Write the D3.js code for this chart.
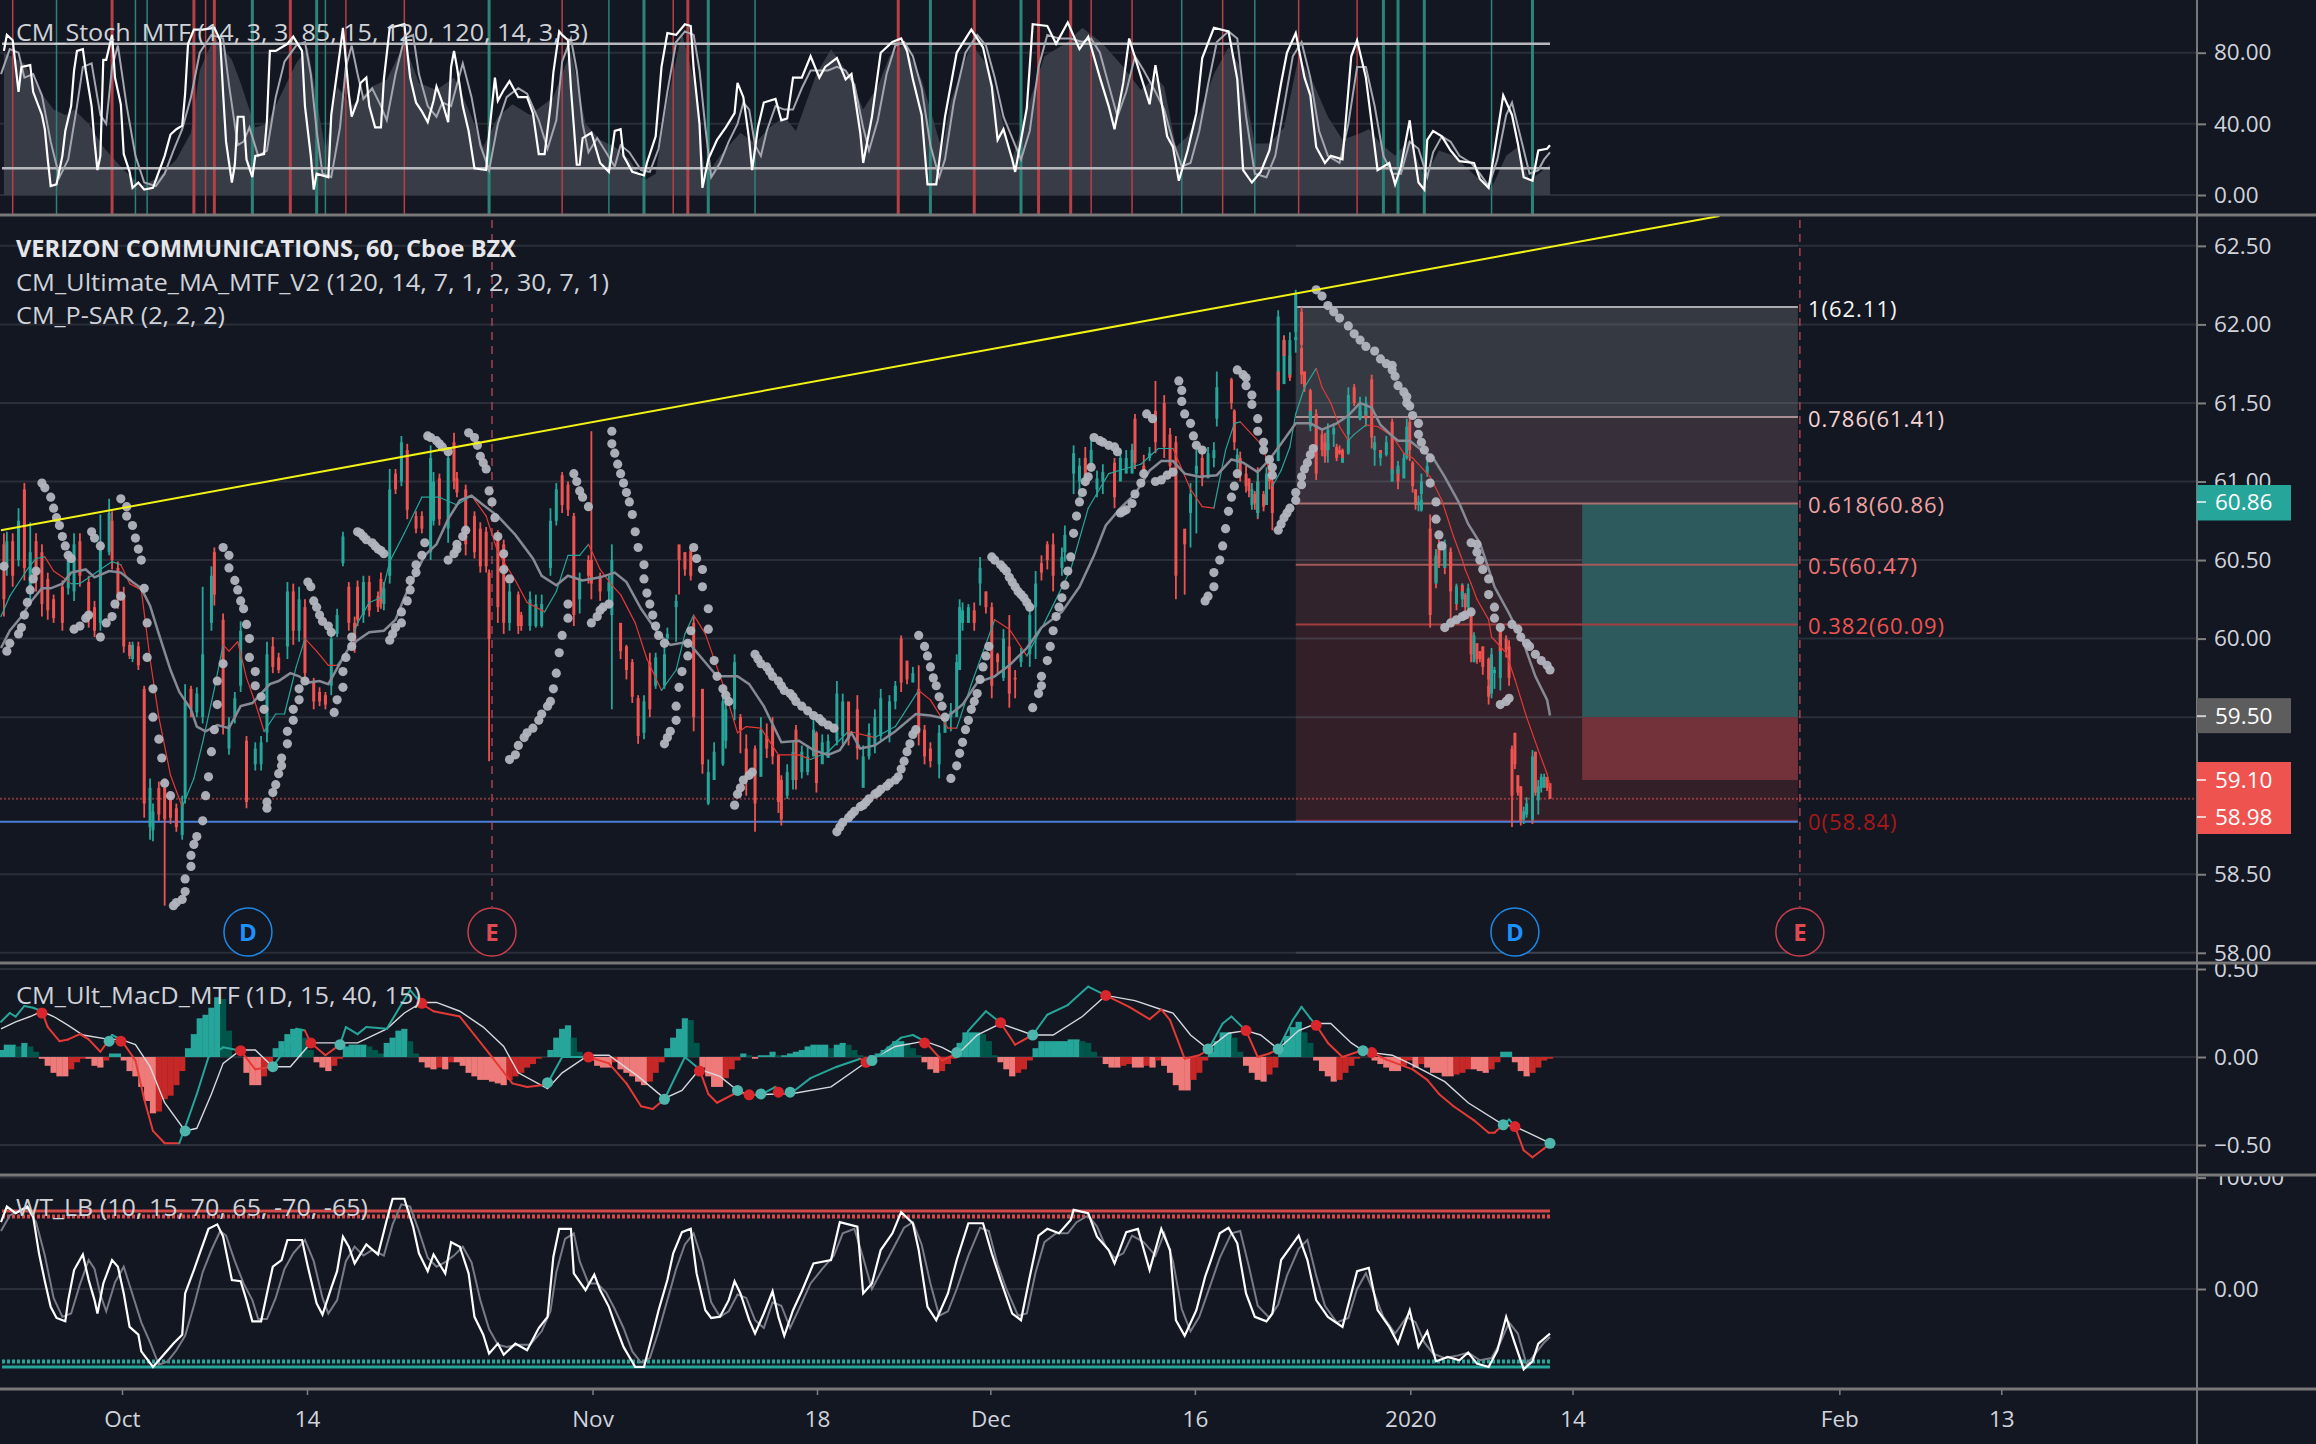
<!DOCTYPE html>
<html>
<head>
<meta charset="utf-8">
<script src="https://cdn.jsdelivr.net/npm/d3@7"></script>
<style>
  html, body { margin: 0; padding: 0; background: #131722; }
  text { font-family: "Open Sans", sans-serif; }
</style>
</head>
<body>
<div id="chart"></div>
<script>
// candles: bar, open, high, low, close
var candles = [
[1,60.6,60.67,60.14,60.25],[2,60.45,60.68,60.4,60.62],[4,60.62,60.67,60.33,60.4],[6,60.5,60.83,60.46,60.75],[8,60.95,60.99,60.37,60.45],
[10,60.3,60.74,60.23,60.55],[12,60.62,60.67,60.3,60.38],[14,60.55,60.6,60.14,60.22],[16,60.38,60.42,60.12,60.18],[18,60.25,60.28,60.1,60.13],
[21,60.33,60.37,60.05,60.1],[23,60.32,60.56,60.28,60.5],[25,60.3,60.67,60.24,60.6],[27,60.62,60.67,60.33,60.4],[30,60.36,60.4,60.07,60.12],
[32,60.2,60.24,60.01,60.05],[34,60.1,60.79,60.05,60.6],[37,60.55,60.89,60.53,60.8],[38,60.75,60.81,60.44,60.5],[40,60.45,60.49,60.19,60.25],
[42,60.28,60.33,59.91,59.95],[44,59.96,59.98,59.87,59.89],[45,59.87,59.98,59.85,59.96],[47,59.95,59.98,59.8,59.83],[49,59.68,59.7,58.86,58.95],
[51,58.8,59.11,58.72,59.05],[52,58.78,58.95,58.71,58.9],[54,59.05,59.09,58.84,58.88],[56,59.05,59.11,58.3,58.85],[58,59,59.02,58.82,58.86],
[60,58.92,58.95,58.77,58.8],[62,58.75,59,58.72,58.95],[63,58.98,59.71,58.95,59.6],[65,59.68,59.7,59.5,59.55],[67,59.53,59.69,59.5,59.65],
[69,59.5,60.33,59.46,59.9],[72,60.1,60.46,60.05,60.4],[73,60.55,60.58,60.21,60.28],[76,60.12,60.16,59.39,59.45],[78,59.3,59.5,59.26,59.45],
[80,59.5,59.66,59.46,59.62],[82,59.7,60.11,59.66,60.05],[84,59.35,59.38,58.92,58.96],[87,59.2,59.34,59.16,59.3],[89,59.2,59.38,59.16,59.34],
[91,59.4,59.98,59.34,59.9],[93,59.95,60.01,59.78,59.82],[95,59.88,59.91,59.78,59.8],[98,59.95,60.36,59.87,60.3],[100,60.3,60.35,59.96,60.05],
[102,60.05,60.33,59.98,60.25],[104,60.2,60.25,59.73,59.78],[107,59.72,59.75,59.55,59.6],[109,59.66,59.69,59.57,59.6],[111,59.64,59.66,59.55,59.58],
[113,59.7,60.05,59.64,60],[115,60.03,60.19,60.01,60.15],[117,60.48,60.68,60.46,60.65],[119,60.33,60.36,60.05,60.1],[121,60.1,60.14,59.91,59.95],
[122,60.33,60.37,60.08,60.12],[124,60.15,60.4,60.1,60.36],[126,60.36,60.4,60.14,60.18],[129,60.27,60.3,60.17,60.2],[130,60.38,60.42,60.19,60.23],
[131,60.22,60.36,60.18,60.32],[133,60.4,61.08,60.35,60.95],[135,61.05,61.08,60.92,60.95],[137,61,61.29,60.97,61.25],[139,61.2,61.24,60.76,60.82],
[142,60.78,60.81,60.67,60.7],[144,60.78,60.81,60.67,60.7],[147,60.55,61.23,60.5,61.15],[148,60.75,61.06,60.72,61],[150,61.02,61.05,60.72,60.76],
[153,60.7,61.22,60.61,61.15],[155,61.25,61.31,60.95,61],[156,61.02,61.06,60.9,60.93],[159,60.95,60.98,60.53,60.6],[162,60.78,60.81,60.51,60.55],
[164,60.7,60.74,60.42,60.46],[166,60.68,60.71,60.42,60.46],[167,60.42,60.44,59.22,60],[170,60.66,60.69,60.1,60.2],[172,60.6,60.63,60.03,60.1],
[174,60.1,60.35,60.05,60.3],[177,60.28,60.3,60.03,60.08],[178,60.15,60.17,60.05,60.08],[181,60.08,60.3,60.05,60.25],[183,60.08,60.28,60.07,60.22],
[185,60.08,60.28,60.07,60.22],[188,60.45,60.83,60.4,60.75],[190,60.75,60.99,60.72,60.95],[192,61.04,61.06,60.8,60.85],[194,60.98,61,60.78,60.82],
[196,60.78,60.8,60.08,60.15],[198,60.25,60.42,60.16,60.38],[201,60.5,60.53,60.35,60.4],[202,60.5,61.32,60.25,60.35],[205,60.4,60.42,60.24,60.3],
[208,60.3,60.4,60.2,60.36],[209,60.15,60.6,59.55,60.5],[212,60.1,60.1,59.87,59.92],[214,59.95,59.96,59.74,59.8],[216,59.85,59.87,59.59,59.63],
[218,59.62,59.64,59.33,59.38],[220,59.4,59.64,59.36,59.6],[222,59.85,59.91,59.5,59.55],[224,59.7,59.91,59.68,59.88],[227,59.7,59.96,59.68,59.9],
[228,60,60.07,59.98,60.03],[231,60.2,60.28,59.98,60.24],[232,60.6,60.58,60.28,60.5],[234,60.55,60.55,60.4,60.44],[236,60.56,60.58,60.37,60.4],
[237,60.1,60.14,59.41,59.5],[240,59.68,59.68,59.14,59.2],[242,58.95,59.23,58.94,59.15],[244,59.1,59.34,59.13,59.28],[247,59.2,59.68,59.19,59.6],
[248,59.35,59.64,59.3,59.55],[251,59.55,59.9,59.48,59.85],[253,59.5,59.52,59.27,59.42],[255,59.3,59.39,59.0,59.1],[258,59.3,59.32,58.77,58.95],
[260,59.12,59.5,59.25,59.42],[262,59.38,59.46,59.24,59.3],[264,59.45,59.5,59.2,59.25],[266,59.26,59.26,58.89,58.96],[267,59.1,59.13,58.81,58.85],
[269,59,59.2,58.98,59.15],[271,59.1,59.34,59.04,59.28],[272,59.42,59.45,59.04,59.1],[274,59.15,59.32,59.11,59.28],[276,59.15,59.32,59.13,59.25],
[278,59.25,59.5,59.25,59.42],[279,59.4,59.41,59.02,59.08],[281,59.2,59.39,59.23,59.34],[283,59.24,59.39,59.25,59.35],[286,59.35,59.73,59.32,59.65],
[288,59.38,59.65,59.32,59.6],[290,59.6,59.57,59.32,59.36],[293,59.55,59.64,59.23,59.3],[295,59.05,59.32,59.07,59.25],[297,59.25,59.46,59.23,59.4],
[299,59.32,59.55,59.27,59.5],[301,59.38,59.68,59.34,59.62],[304,59.38,59.64,59.34,59.6],[306,59.6,59.73,59.55,59.7],[308,60,60.02,59.66,59.72],
[310,59.86,59.84,59.71,59.74],[312,59.72,59.82,59.73,59.78],[314,59.68,59.83,59.32,59.4],[316,59.42,59.45,59.2,59.25],[318,59.3,59.34,59.18,59.22],
[321,59.2,59.45,59.11,59.4],[323,59.4,59.5,59.41,59.48],[325,59.5,59.59,59.41,59.54],[327,59.5,59.9,59.55,59.85],[328,59.8,60.25,59.96,60.2],
[329,60.1,60.23,60.05,60.18],[331,60.1,60.22,60.1,60.2],[333,60.18,60.23,60.05,60.1],[335,60.35,60.52,60.21,60.45],[337,60.3,60.3,60.16,60.2],
[339,60.2,60.23,59.62,59.7],[341,59.9,59.91,59.78,59.85],[343,59.75,60.06,59.73,60],[345,59.95,60.15,59.56,59.65],[347,59.75,59.8,59.62,59.74],
[349,59.85,59.94,59.82,59.9],[352,59.9,60.21,59.82,60.15],[354,60.2,60.43,59.87,60.35],[356,60.48,60.53,60.37,60.42],[358,60.6,60.62,60.44,60.5],
[360,60.6,60.67,60.3,60.4],[363,60.45,60.58,60.4,60.52],[364,60.55,60.72,60.49,60.66],[367,61.05,61.23,60.92,61.18],[369,61,61.15,60.9,61.1],
[371,61.15,61.22,60.97,61],[373,61.1,61.27,61.08,61.2],[375,60.95,61.07,60.9,61.02],[377,61,61.11,60.92,61.06],[381,61.12,61.15,60.83,60.9],
[383,61,61.21,61.01,61.15],[385,61.05,61.2,61.06,61.15],[387,61.05,61.24,61.06,61.2],[388,61.4,61.43,61.08,61.12],[391,61.1,61.17,60.99,61.05],
[393,61.15,61.22,61.13,61.18],[395,61.45,61.64,61.18,61.25],[398,61.5,61.55,61.15,61.22],[400,61.3,61.34,61.03,61.1],[402,61.25,61.29,60.25,60.4],
[405,60.7,60.65,60.28,60.6],[407,60.8,60.99,60.58,60.92],[409,61.05,61.2,60.67,61.1],[411,61.15,61.22,60.97,61.02],[413,61.02,61.22,61.08,61.18],
[415,61.15,61.25,61.09,61.2],[416,61.4,61.7,61.35,61.6],[421,61.65,61.66,61.46,61.5],[422,61.45,61.46,61.2,61.25],[423,61.12,61.21,61.08,61.17],
[424,61.15,61.19,61,61.05],[426,61.05,61.1,60.93,60.97],[427,61.02,61,60.9,60.94],[428,60.85,60.99,60.82,60.95],[429,60.92,60.94,60.82,60.86],
[430,61.0,61.09,60.76,60.8],[430,60.8,61.06,60.77,61],[432,60.92,60.94,60.81,60.84],[433,60.85,61.09,60.88,61.05],[434,61.1,61.14,60.95,61],
[435,61,61.03,60.69,60.8],[437,61.13,62.09,61.13,62.05],[437,61.7,61.7,61.57,61.58],[439,61.62,61.93,61.64,61.9],[439,61.9,61.93,61.78,61.8],
[441,61.8,61.81,61.64,61.66],[441,61.68,61.95,61.67,61.9],[443,61.95,62.22,61.9,62.2],[443,61.9,61.95,61.82,61.92],[445,62.08,62.11,61.85,61.87],
[445,61.85,61.85,61.62,61.68],[446,61.7,61.7,61.57,61.6],[448,61.58,61.59,61.35,61.4],[448,61.35,61.48,61.32,61.45],[450,61.43,61.46,61.31,61.34],
[450,61.34,61.34,61.01,61.05],[452,61.3,61.33,61.16,61.2],[453,61.25,61.31,61.12,61.16],[454,61.2,61.26,61.12,61.24],[454,61.2,61.37,61.2,61.33],
[456,61.3,61.37,61.22,61.34],[457,61.22,61.24,61.13,61.15],[458,61.2,61.23,61.17,61.18],[459,61.2,61.21,61.12,61.14],[459,61.12,61.17,61.12,61.15],
[461,61.18,61.29,61.17,61.27],[461,61.3,61.6,61.29,61.55],[463,61.6,61.62,61.48,61.5],[465,61.4,61.54,61.39,61.5],[465,61.4,61.5,61.39,61.45],
[467,61.45,61.47,61.38,61.4],[467,61.42,61.54,61.35,61.5],[469,61.65,61.68,61.21,61.28],[470,61.2,61.29,61.1,61.25],[472,61.2,61.2,61.15,61.16],
[472,61.15,61.2,61.1,61.18],[474,61.17,61.29,61.16,61.25],[476,61.38,61.4,61.01,61.05],[476,61,61.1,61,61.08],[478,61.08,61.09,60.95,61],
[478,61.05,61.13,61.0,61.1],[480,61.02,61.18,61.02,61.15],[481,61.15,61.4,61.14,61.35],[482,61.38,61.42,61.13,61.2],[483,61.12,61.13,60.93,60.97],
[484,60.95,60.95,60.82,60.85],[485,60.85,60.91,60.81,60.87],[486,60.82,60.89,60.81,60.88],[486,60.92,61.05,60.81,61],[488,61.05,61.13,61.03,61.1],
[489,60.7,60.79,60.07,60.15],[491,60.52,60.55,60.32,60.36],[491,60.35,60.57,60.35,60.53],[492,60.6,60.63,60.45,60.48],[494,60.58,60.61,60.41,60.46],
[494,60.45,60.63,60.46,60.6],[496,60.55,60.58,60.41,60.45],[496,60.55,60.57,60.12,60.3],[498,60.33,60.34,60.18,60.22],[498,60.22,60.35,60.28,60.33],
[500,60.34,60.35,60.25,60.27],[500,60.25,60.35,60.2,60.3],[501,60.28,60.29,60.17,60.2],[502,60.2,60.35,60.18,60.32],[503,60.17,60.18,59.85,59.9],
[504,59.85,60.04,59.85,60.02],[505,59.97,59.97,59.84,59.87],[506,59.92,59.92,59.85,59.87],[507,59.95,59.95,59.77,59.82],[509,59.87,59.88,59.7,59.74],
[509,59.7,59.75,59.58,59.63],[510,59.65,59.94,59.62,59.9],[511,59.78,59.82,59.68,59.8],[513,59.75,60.07,59.67,60.03],[513,60.05,60.06,59.9,59.92],
[515,60,60.02,59.88,59.93],[516,59.95,59.99,59.7,59.75],[517,59.3,59.32,58.8,59],[518,59.4,59.4,59.17,59.2],[519,59.13,59.13,59,59.02],
[520,59.06,59.06,58.81,58.84],[521,58.85,58.93,58.82,58.9],[522,58.88,58.99,58.86,58.95],[524,58.99,59,58.82,58.85],[524,58.85,59.29,58.84,59.25],
[525,59.28,59.28,59,59.02],[526,58.97,59.1,58.88,59.06],[527,59.05,59.14,59.02,59.12],[528,59.05,59.14,59.06,59.12],[529,59.12,59.11,59.03,59.05],
[530,59.08,59.07,58.98,58.98]
];

// P-SAR dots: bar, price
var sarDots = [
[1,60.46],[2,59.92],[3,59.97],[6,60.03],[7,60.07],[8,60.15],[9,60.23],[10,60.31],[11,60.38],[12,60.43],
[14,60.99],[15,60.96],[17,60.9],[18,60.83],[19,60.77],[20,60.72],[21,60.65],[22,60.59],[23,60.53],[24,60.51],
[25,60.06],[27,60.08],[29,60.13],[30,60.15],[31,60.68],[32,60.64],[34,60.59],[34,60.01],[36,60.1],[38,60.14],[39,60.22],[41,60.27],
[41,60.89],[43,60.84],[43,60.78],[45,60.72],[46,60.64],[47,60.57],[48,60.5],[49,60.32],[50,60.1],[50,59.88],[52,59.68],[52,59.5],[54,59.36],[55,59.24],[56,59.08],[58,59],
[59,58.3],[60,58.32],[62,58.34],[63,58.39],[63,58.47],[65,58.55],[65,58.62],[66,58.69],[67,58.74],[69,58.84],[70,59],[71,59.12],[72,59.28],[73,59.42],[74,59.58],[74,59.73],[76,59.84],
[76,60.58],[78,60.53],[78,60.45],[80,60.37],[81,60.31],[82,60.24],[83,60.19],[84,60.09],[85,60],[85,59.88],[87,59.79],[87,59.7],[89,59.63],[90,59.55],
[91,58.92],[91,58.96],[93,59.02],[94,59.07],[95,59.14],[96,59.19],[96,59.24],[98,59.33],[98,59.41],[100,59.48],[100,59.55],[102,59.61],[102,59.68],[104,59.73],
[105,60.36],[106,60.33],[107,60.24],[108,60.2],[109,60.15],[110,60.11],[112,60.08],[113,60.04],
[114,59.53],[115,59.61],[117,59.69],[117,59.79],[118,59.88],[120,59.95],[120,60.01],
[122,60.68],[123,60.67],[124,60.65],[125,60.63],[127,60.61],[128,60.59],[129,60.57],[130,60.56],[131,60.54],
[133,59.99],[134,60.03],[135,60.07],[137,60.1],[137,60.17],[139,60.24],[140,60.31],[140,60.37],[142,60.42],[142,60.47],[144,60.53],[145,60.61],
[146,61.29],[147,61.28],[149,61.26],[150,61.24],[151,61.22],[153,61.19],
[153,60.5],[155,60.54],[156,60.57],[156,60.6],[158,60.65],[159,60.69],
[160,61.31],[162,61.28],[163,61.23],[164,61.16],[165,61.12],[166,61.08],[167,60.94],[168,60.87],[169,60.77],[170,60.65],[172,60.54],[172,60.44],[174,60.38],
[174,59.23],[176,59.26],[177,59.32],[179,59.37],[180,59.4],[182,59.43],[184,59.48],[185,59.52],[187,59.57],[188,59.6],[189,59.68],[190,59.78],[191,59.91],[192,60.02],[194,60.13],[194,60.22],
[196,61.05],[197,61],[198,60.94],[199,60.9],[201,60.84],
[202,60.1],[204,60.14],[205,60.18],[206,60.2],[208,60.22],
[209,61.32],[209,61.24],[210,61.18],[211,61.11],[212,61.05],[213,60.99],[214,60.93],[215,60.87],[216,60.79],[217,60.68],[218,60.58],[220,60.47],[220,60.38],[221,60.29],[222,60.22],[223,60.15],[224,60.08],[225,60.02],[227,59.97],
[227,59.33],[228,59.37],[229,59.41],[231,59.48],[231,59.57],[232,59.69],[233,59.79],[235,59.89],[235,59.97],[236,60.05],
[237,60.58],[238,60.51],[240,60.44],[240,60.33],[242,60.19],[242,60.06],[244,59.86],[245,59.76],[247,59.68],[248,59.64],[249,59.6],
[251,58.94],[252,59.01],[253,59.05],[254,59.1],[256,59.13],[257,59.15],
[258,59.9],[259,59.87],[260,59.84],[262,59.82],[263,59.79],[264,59.76],[266,59.73],[267,59.7],[268,59.67],[270,59.65],[271,59.63],[272,59.6],[274,59.57],[276,59.54],[278,59.51],[280,59.49],[281,59.47],[283,59.45],[285,59.43],
[286,58.77],[287,58.8],[288,58.83],[290,58.86],[291,58.88],[292,58.9],[294,58.93],[295,58.94],[296,58.96],[297,58.98],[299,59.01],[300,59.02],[301,59.04],[303,59.06],[304,59.08],[306,59.1],[307,59.12],[308,59.17],[309,59.22],[310,59.28],[311,59.33],[312,59.39],[313,59.42],
[314,60.02],[316,59.95],[317,59.89],[318,59.82],[319,59.75],[320,59.7],[321,59.63],[322,59.57],[323,59.5],
[325,59.11],[327,59.19],[328,59.27],[329,59.34],[330,59.42],[331,59.48],[332,59.55],[333,59.6],[334,59.65],[335,59.74],[336,59.82],[337,59.89],[338,59.95],
[339,60.52],[340,60.5],[342,60.47],[343,60.45],[344,60.43],[345,60.39],[346,60.36],[347,60.33],[348,60.3],[349,60.28],[350,60.26],[351,60.23],[352,60.2],
[353,59.56],[355,59.65],[356,59.7],[356,59.76],[358,59.86],[359,59.95],[360,60.05],[361,60.14],[362,60.2],[363,60.26],[364,60.34],[365,60.43],[366,60.52],[367,60.67],[368,60.78],[369,60.87],[370,60.93],[371,61],[372,61.03],[373,61.09],
[374,61.28],[376,61.26],[377,61.25],[379,61.23],[381,61.22],[382,61.19],
[383,60.8],[384,60.81],[385,60.82],[387,60.86],[388,60.92],[390,60.99],[391,61.05],[392,61.43],[394,61.4],
[395,61],[397,61.01],[399,61.04],[401,61.06],
[403,61.64],[404,61.58],[404,61.51],[405,61.43],[407,61.37],[408,61.29],[409,61.23],[411,61.2],
[412,60.24],[413,60.27],[415,60.33],[415,60.42],[417,60.5],[418,60.59],[419,60.7],[420,60.81],[421,60.9],[422,60.97],[423,61.05],
[423,61.71],[425,61.68],[426,61.66],[426,61.61],[428,61.55],[428,61.49],[430,61.4],[430,61.32],[432,61.25],[432,61.2],[434,61.14],[435,61.09],[435,61.04],
[437,60.69],[438,60.73],[439,60.77],[440,60.8],[441,60.83],[443,60.88],[443,60.93],[445,60.98],[445,61.03],[446,61.08],[447,61.12],[448,61.17],[449,61.21],
[450,62.22],[452,62.18],[454,62.12],[456,62.08],[458,62.04],[461,61.99],[463,61.94],[465,61.9],[467,61.86],[470,61.83],[472,61.78],[474,61.75],[476,61.74],[476,61.71],[477,61.67],[478,61.61],[480,61.57],[481,61.54],[481,61.5],[482,61.48],[483,61.42],[485,61.37],[485,61.3],[486,61.25],[487,61.2],[489,61.15],[489,60.99],[491,60.87],[491,60.76],[492,60.66],[493,60.59],
[494,60.07],[496,60.1],[498,60.12],[500,60.14],[501,60.15],[503,60.17],
[503,60.61],[505,60.6],[505,60.55],[506,60.5],[507,60.44],[509,60.38],[509,60.28],[511,60.2],[511,60.13],[513,60.07],
[513,59.58],[515,59.6],[516,59.62],
[517,60.09],[519,60.06],[520,60.01],[522,59.97],[523,59.95],[525,59.9],[527,59.86],[529,59.83],[530,59.8]
];

// long moving average: bar, price
var maSlow = [
[0,59.94],[3,60.05],[7,60.14],[10,60.23],[14,60.32],[17,60.32],[21,60.35],[24,60.42],[29,60.44],[32,60.39],[37,60.43],[41,60.42],[45,60.36],[48,60.32],[51,60.21],[54,60.03],[58,59.8],[61,59.66],[65,59.55],[67,59.44],[70,59.41],[74,59.45],[78,59.43],[82,59.57],[86,59.59],[89,59.65],[92,59.71],[95,59.73],[99,59.78],[102,59.76],[105,59.72],[109,59.73],[112,59.71],[115,59.81],[119,59.94],[122,59.99],[126,60.04],[131,60.05],[135,60.12],[138,60.26],[142,60.42],[145,60.53],[149,60.6],[153,60.76],[157,60.88],[161,60.91],[165,60.85],[170,60.78],[176,60.66],[182,60.51],[185,60.4],[190,60.34],[194,60.4],[199,60.37],[205,60.39],[210,60.42],[214,60.36],[219,60.19],[225,60.03],[229,59.96],[235,59.98],[240,59.87],[245,59.76],[252,59.76],[256,59.71],[261,59.57],[267,59.34],[273,59.35],[278,59.29],[283,59.26],[287,59.29],[291,59.4],[294,59.3],[299,59.32],[306,59.41],[313,59.52],[318,59.51],[323,59.49],[329,59.58],[334,59.72],[340,59.76],[345,59.83],[351,59.94],[356,60.07],[363,60.17],[369,60.33],[374,60.53],[378,60.72],[383,60.83],[388,60.92],[393,61.07],[397,61.13],[401,61.13],[405,61.05],[410,61.03],[416,61.04],[421,61.14],[425,61.12],[430,61.06],[434,61.14],[438,61.24],[443,61.37],[448,61.37],[452,61.33],[457,61.37],[461,61.42],[465,61.5],[469,61.47],[472,61.36],[476,61.29],[478,61.26],[482,61.26],[486,61.2],[490,61.15],[494,61.03],[499,60.86],[502,60.73],[506,60.61],[508,60.5],[511,60.33],[516,60.16],[521,59.97],[525,59.76],[529,59.61],[530,59.51]
];

// short moving average: bar, price, direction (1 rising, -1 falling)
var maFast = [
[0,60.14,1],[3,60.27,1],[9,60.44,1],[12,60.51,1],[15,60.52,1],[18,60.43,-1],[22,60.38,-1],[24,60.35,-1],[27,60.35,1],[31,60.4,1],[34,60.44,1],[38,60.49,1],[41,60.47,1],[44,60.35,-1],[48,60.31,-1],[51,59.87,-1],[54,59.5,-1],[58,59.13,-1],[62,58.93,-1],[66,59.11,1],[69,59.34,1],[73,59.68,1],[76,59.96,1],[78,59.92,-1],[81,59.98,-1],[84,59.75,-1],[87,59.59,-1],[90,59.41,-1],[94,59.52,1],[97,59.52,1],[101,59.82,1],[104,60,1],[108,59.92,-1],[112,59.83,-1],[115,59.83,-1],[119,59.94,1],[122,60.1,1],[126,60.23,1],[130,60.26,1],[133,60.49,1],[138,60.67,1],[144,60.9,1],[150,60.9,1],[156,60.85,1],[161,60.91,1],[166,60.78,-1],[170,60.55,-1],[176,60.37,-1],[180,60.23,-1],[186,60.17,-1],[190,60.3,1],[194,60.53,1],[198,60.53,1],[201,60.6,1],[205,60.44,-1],[209,60.34,-1],[212,60.28,-1],[217,60.1,-1],[221,59.87,-1],[226,59.67,-1],[231,59.8,1],[234,60.03,1],[237,60.15,1],[241,60.03,-1],[247,59.71,-1],[252,59.4,-1],[255,59.44,-1],[260,59.43,-1],[266,59.26,-1],[273,59.26,-1],[277,59.23,-1],[283,59.28,1],[290,59.41,1],[299,59.37,-1],[306,59.44,1],[314,59.67,1],[318,59.61,-1],[324,59.43,-1],[327,59.43,-1],[332,59.71,1],[340,60.12,1],[345,60.06,-1],[351,59.89,-1],[357,60.1,1],[366,60.44,1],[372,60.83,1],[379,61.05,1],[390,61.11,1],[396,61.21,1],[401,61.21,1],[407,60.95,-1],[411,60.84,-1],[415,60.83,-1],[419,61.2,1],[422,61.37,1],[424,61.38,1],[432,61.22,-1],[435,60.97,-1],[438,61.07,1],[441,61.22,1],[443,61.43,1],[446,61.6,1],[450,61.72,1],[452,61.6,-1],[455,61.5,-1],[458,61.35,-1],[461,61.26,-1],[463,61.3,1],[467,61.36,1],[471,61.35,-1],[476,61.29,-1],[480,61.18,-1],[483,61.15,-1],[489,61.03,-1],[493,60.88,-1],[497,60.65,-1],[500,60.5,-1],[501,60.44,-1],[503,60.35,-1],[505,60.25,-1],[509,60.12,-1],[510,60.01,-1],[515,59.91,-1],[518,59.74,-1],[522,59.5,-1],[526,59.29,-1],[529,59.14,-1],[530,59.06,-1]
];

// stochastic pane: bar, value
var stochFast = [
[1,81],[2,90],[4,87],[6,58],[7,72],[10,73],[11,58],[14,45],[15,37],[16,20],[17,5],[19,6],[21,22],[22,36],[24,50],[25,70],[26,81],[28,82],[29,70],[31,50],[32,30],[33,14],[34,22],[35,76],[36,76],[38,90],[39,66],[41,51],[42,23],[44,13],[45,4],[47,7],[49,3],[52,4],[54,13],[56,22],[58,34],[60,37],[62,39],[63,57],[64,85],[66,93],[69,93],[73,94],[75,87],[76,57],[77,30],[79,7],[80,17],[81,44],[83,44],[84,20],[86,10],[87,22],[90,23],[91,42],[92,81],[94,81],[98,85],[100,89],[103,81],[104,50],[106,22],[107,3],[108,12],[112,10],[113,45],[115,69],[116,81],[117,94],[119,57],[120,44],[122,53],[123,63],[125,66],[126,50],[128,38],[130,38],[131,65],[133,94],[138,96],[140,66],[142,52],[144,47],[146,41],[148,53],[149,61],[151,52],[153,41],[154,72],[155,81],[156,72],[158,50],[160,36],[162,15],[166,14],[167,34],[169,66],[170,53],[172,59],[174,64],[177,55],[180,55],[182,46],[184,23],[186,23],[188,50],[189,69],[191,92],[192,90],[194,87],[195,60],[197,17],[198,17],[199,32],[202,35],[205,18],[208,13],[210,36],[212,37],[213,22],[216,13],[220,11],[221,18],[224,33],[226,72],[228,91],[231,90],[234,96],[236,95],[237,71],[239,40],[240,4],[242,20],[245,31],[248,38],[251,46],[252,63],[254,55],[256,31],[257,14],[259,38],[261,52],[265,54],[267,42],[269,43],[271,66],[274,66],[277,78],[280,66],[282,72],[286,77],[289,65],[291,68],[294,35],[295,18],[298,44],[301,80],[305,86],[308,88],[310,81],[312,65],[315,45],[317,6],[320,6],[323,44],[327,80],[332,93],[336,83],[339,61],[341,31],[343,37],[346,20],[347,13],[351,49],[353,96],[358,95],[361,85],[365,97],[369,82],[372,89],[376,66],[379,50],[381,37],[384,63],[386,88],[389,72],[393,51],[395,73],[399,33],[401,27],[403,8],[406,25],[409,46],[411,77],[415,94],[420,92],[423,65],[425,14],[428,7],[431,13],[434,25],[438,63],[440,80],[443,91],[446,66],[448,56],[450,27],[453,18],[455,22],[459,20],[462,78],[464,87],[467,66],[469,40],[471,14],[475,18],[477,6],[479,16],[482,42],[483,29],[485,7],[487,3],[488,31],[490,36],[493,33],[496,25],[499,19],[504,18],[506,9],[509,4],[512,35],[514,56],[517,45],[519,29],[521,10],[524,8],[526,25],[529,26],[530,28]
];
var stochSlow = [
[0,68],[3,82],[6,80],[8,66],[11,68],[14,56],[17,30],[20,10],[23,20],[26,50],[28,72],[31,74],[34,45],[36,40],[38,72],[40,84],[43,50],[46,22],[49,7],[53,5],[56,12],[59,25],[62,37],[65,55],[68,80],[72,90],[76,88],[78,62],[81,28],[83,30],[85,38],[88,22],[91,25],[94,55],[97,75],[101,84],[104,86],[106,68],[108,36],[110,12],[113,10],[116,38],[118,72],[120,84],[122,68],[124,54],[127,60],[130,50],[132,42],[135,68],[138,88],[141,90],[143,68],[146,50],[149,44],[151,52],[154,50],[156,62],[158,74],[161,55],[164,28],[167,14],[170,40],[173,55],[177,60],[180,57],[184,42],[187,26],[190,42],[192,75],[195,88],[197,70],[199,40],[201,24],[204,32],[207,24],[210,16],[212,28],[215,24],[219,14],[222,13],[225,26],[228,58],[231,86],[234,92],[237,90],[239,70],[241,38],[243,10],[246,18],[249,30],[252,40],[254,52],[256,48],[258,28],[260,22],[262,36],[265,50],[268,48],[271,48],[274,60],[277,70],[280,70],[283,70],[286,72],[289,70],[292,62],[295,38],[297,25],[300,42],[303,68],[306,84],[309,86],[312,78],[315,60],[318,28],[321,10],[323,20],[326,52],[330,80],[334,90],[337,84],[340,66],[343,44],[346,32],[349,20],[352,36],[355,72],[358,90],[362,88],[366,88],[370,86],[373,88],[376,80],[379,62],[382,44],[385,58],[388,78],[391,70],[395,58],[398,48],[401,30],[404,16],[407,18],[410,36],[413,62],[416,86],[420,92],[423,88],[426,44],[429,12],[433,10],[436,22],[439,50],[442,78],[445,86],[448,66],[451,36],[454,22],[458,18],[461,40],[464,72],[467,72],[470,50],[473,22],[476,12],[479,12],[482,30],[485,26],[488,10],[490,24],[493,33],[496,30],[499,22],[503,18],[506,12],[509,5],[512,20],[515,45],[517,52],[520,32],[523,12],[526,14],[528,20],[530,24]
];
var stochArea = [
[1,80],[8,74],[13,59],[18,48],[22,45],[25,48],[30,40],[35,27],[42,14],[48,5],[54,10],[60,20],[65,35],[68,70],[73,89],[79,76],[82,63],[87,38],[91,40],[96,57],[101,74],[105,83],[111,25],[115,61],[120,50],[127,61],[132,65],[138,85],[143,63],[149,59],[155,66],[160,48],[165,27],[170,44],[175,51],[181,45],[189,55],[195,81],[200,40],[205,31],[210,27],[215,20],[220,8],[224,12],[228,53],[233,91],[237,65],[241,10],[246,22],[253,35],[258,29],[263,38],[268,44],[272,36],[279,68],[284,82],[290,68],[295,48],[300,61],[304,78],[309,85],[315,65],[322,25],[325,53],[332,85],[338,72],[346,20],[351,48],[357,78],[365,86],[370,94],[377,85],[384,72],[390,59],[395,66],[398,61],[402,27],[406,33],[410,46],[415,68],[420,83],[424,72],[429,29],[434,29],[439,38],[444,78],[449,63],[454,44],[459,31],[464,34],[468,37],[472,29],[477,22],[482,31],[487,10],[492,25],[497,22],[505,10],[510,4],[515,22],[519,27],[523,8],[530,17]
];
// bars where the stochastic fires a signal
var stochSellStrong = [38,66,73,99,235,307,333,355,366];
var stochSellWeak = [4,70,118,138,192,230,373,387,418,444,464];
var stochBuyStrong = [86,108,167,220,242,318,349,473,478,487,524];
var stochBuyWeak = [19,46,50,111,208,258,404,429,510];

// MACD pane: bar, value
var macdHist = [
[0,.04],[2,.07],[4,.07],[6,.06],[8,.08],[10,.06],[12,.03],[14,-.01],[16,-.05],[18,-.09],[20,-.11],[22,-.11],[24,-.07],[26,-.03],[28,-.01],[30,-.01],[32,-.05],[34,-.06],[36,-.02],[38,.02],[40,.02],[42,-.02],[44,-.08],[46,-.11],[48,-.17],[50,-.25],[52,-.32],[54,-.31],[56,-.24],[58,-.22],[60,-.16],[62,-.08],[64,.05],[66,.13],[68,.22],[70,.24],[72,.28],[74,.34],[76,.33],[78,.15],[80,0],[82,0],[84,-.09],[86,-.16],[88,-.16],[90,-.11],[92,-.06],[94,.05],[96,.09],[98,.13],[100,.16],[102,.16],[104,.11],[106,.04],[108,-.03],[110,-.06],[112,-.08],[114,-.05],[116,-.01],[118,.06],[120,.07],[122,.07],[124,.07],[126,.06],[128,.04],[130,.02],[132,.08],[134,.11],[136,.15],[138,.16],[140,.09],[142,.02],[144,-.03],[146,-.06],[148,-.07],[150,-.06],[152,-.07],[154,-.03],[156,-.03],[158,-.05],[160,-.09],[162,-.11],[164,-.13],[166,-.13],[168,-.14],[170,-.15],[172,-.16],[174,-.13],[176,-.11],[178,-.09],[180,-.06],[182,-.04],[184,-.01],[186,0],[188,.04],[190,.11],[192,.16],[194,.18],[196,.11],[198,.03],[200,-.01],[202,-.02],[204,-.05],[206,-.06],[208,-.06],[210,-.03],[212,-.07],[214,-.09],[216,-.11],[218,-.14],[220,-.16],[222,-.14],[224,-.09],[226,-.03],[228,.05],[230,.11],[232,.16],[234,.22],[236,.21],[238,.08],[240,-.06],[242,-.11],[244,-.17],[246,-.17],[248,-.12],[250,-.07],[252,-.02],[254,.02],[256,.01],[258,-.01],[260,.01],[262,.01],[264,.03],[266,.01],[268,.01],[270,.02],[272,.03],[274,.04],[276,.06],[278,.07],[280,.07],[282,.07],[284,.05],[286,.07],[288,.08],[290,.07],[292,.04],[294,.01],[296,0],[298,.01],[300,.02],[302,.04],[304,.06],[306,.09],[308,.09],[310,.08],[312,.05],[314,.01],[316,-.03],[318,-.07],[320,-.09],[322,-.08],[324,-.04],[326,-.01],[328,.08],[330,.14],[332,.14],[334,.14],[336,.13],[338,.09],[340,.01],[342,-.03],[344,-.07],[346,-.11],[348,-.09],[350,-.07],[352,-.02],[354,.05],[356,.09],[358,.09],[360,.09],[362,.09],[364,.09],[366,.1],[368,.1],[370,.09],[372,.08],[374,.03],[376,0],[378,-.04],[380,-.06],[382,-.06],[384,-.05],[386,-.04],[388,-.06],[390,-.06],[392,-.05],[394,-.06],[396,-.02],[398,-.05],[400,-.09],[402,-.16],[404,-.19],[406,-.19],[408,-.13],[410,-.09],[412,-.02],[414,.03],[416,.09],[418,.14],[420,.14],[422,.11],[424,.03],[426,-.05],[428,-.09],[430,-.13],[432,-.14],[434,-.1],[436,-.06],[438,.06],[440,.12],[442,.17],[444,.2],[446,.14],[448,.08],[450,-.02],[452,-.08],[454,-.11],[456,-.14],[458,-.13],[460,-.09],[462,-.05],[464,-.01],[466,0],[468,0],[470,-.02],[472,-.04],[474,-.06],[476,-.08],[478,-.08],[480,-.05],[482,-.02],[484,-.06],[486,-.04],[488,-.06],[490,-.09],[492,-.09],[494,-.11],[496,-.11],[498,-.1],[500,-.09],[502,-.07],[504,-.07],[506,-.08],[508,-.09],[510,-.07],[512,-.03],[514,.03],[516,.03],[518,-.03],[520,-.08],[522,-.11],[524,-.09],[526,-.06],[528,-.02],[530,-.01]
];
var macdLine = [
[0,.2,1],[3,.25,1],[5,.23,1],[8,.29,1],[11,.28,1],[14,.26,1],[16,.17,-1],[20,.09,-1],[23,.1,-1],[27,.13,-1],[30,.1,-1],[34,.03,-1],[37,.1,-1],[38,.125,1],[41,.1,1],[46,-.02,-1],[49,-.24,-1],[52,-.42,-1],[56,-.49,-1],[61,-.49,-1],[63,-.4,1],[67,-.21,1],[71,0,1],[76,.055,1],[82,.036,1],[87,-.07,-1],[93,-.055,-1],[98,.06,1],[101,.16,1],[104,.15,1],[106,.08,-1],[111,.01,-1],[116,.07,-1],[118,.17,1],[122,.13,1],[125,.17,1],[132,.16,1],[137,.3,1],[140,.38,1],[144,.3,1],[148,.26,-1],[157,.23,-1],[162,.125,-1],[167,.02,-1],[175,-.15,-1],[180,-.17,-1],[185,-.16,-1],[187,-.15,-1],[192,0,1],[201,0,1],[208,-.036,-1],[214,-.15,-1],[219,-.28,-1],[223,-.295,-1],[227,-.24,-1],[234,0,1],[239,-.07,1],[242,-.21,-1],[245,-.26,-1],[252,-.2,-1],[256,-.215,-1],[260,-.215,-1],[265,-.17,1],[266,-.21,-1],[270,-.21,-1],[277,-.12,1],[286,-.055,1],[294,-.01,1],[296,-.036,-1],[298,-.02,1],[308,.11,1],[312,.125,1],[316,.09,1],[322,-.02,-1],[327,.02,-1],[331,.15,1],[337,.26,1],[342,.195,1],[347,.07,-1],[353,.125,-1],[358,.24,1],[365,.295,1],[372,.4,1],[378,.35,1],[386,.285,-1],[393,.215,-1],[397,.27,-1],[400,.21,-1],[405,-.01,-1],[410,.01,-1],[413,.04,-1],[418,.19,1],[421,.23,1],[426,.15,1],[430,0,-1],[434,.02,-1],[437,.045,-1],[442,.21,1],[445,.285,1],[448,.22,1],[450,.18,1],[454,.08,-1],[459,0,-1],[466,.04,-1],[469,.025,-1],[474,-.015,-1],[483,-.07,-1],[488,-.13,-1],[492,-.21,-1],[497,-.28,-1],[504,-.36,-1],[509,-.43,-1],[511,-.43,-1],[514,-.385,-1],[516,-.355,1],[518,-.395,1],[521,-.53,-1],[524,-.57,-1],[528,-.52,-1],[530,-.49,-1]
];
var macdSignal = [
[0,.16],[5,.2],[10,.23],[14,.26],[18,.23],[23,.18],[28,.125],[37,.1],[41,.1],[46,.07],[51,-.055],[56,-.26],[63,-.42],[67,-.405],[72,-.21],[76,-.036],[82,.04],[87,.04],[93,-.055],[99,-.055],[106,.08],[116,.08],[122,.08],[132,.16],[138,.25],[144,.31],[149,.31],[157,.26],[165,.17],[172,.06],[177,-.09],[187,-.18],[192,-.09],[201,.01],[208,.01],[218,-.11],[227,-.235],[233,-.19],[239,-.07],[246,-.11],[252,-.19],[256,-.215],[266,-.21],[270,-.21],[284,-.17],[296,-.03],[306,.06],[316,.09],[322,.055],[327,.01],[334,.125],[342,.19],[353,.125],[360,.125],[370,.23],[378,.35],[388,.32],[397,.27],[401,.25],[407,.125],[413,.045],[420,.135],[426,.15],[431,.125],[437,.045],[444,.15],[450,.19],[455,.19],[462,.08],[466,.036],[469,.025],[476,.01],[483,-.045],[494,-.14],[502,-.26],[514,-.385],[518,-.395],[525,-.45],[530,-.49]
];
var macdCrossDown = [[14,.25],[41,.09],[82,.036],[106,.08],[144,.305],[201,0],[239,-.08],[256,-.215],[266,-.2],[296,-.03],[316,.08],[342,.195],[378,.35],[426,.15],[450,.18],[469,.025],[518,-.395]];
var macdCrossUp = [[37,.09],[63,-.42],[93,-.055],[116,.07],[187,-.146],[227,-.24],[252,-.19],[260,-.21],[270,-.2],[298,-.02],[327,.025],[353,.125],[413,.045],[437,.045],[466,.036],[514,-.385],[530,-.49]];

// wave trend pane: bar, value
var wtFast = [
[0,60],[2,74],[5,68],[9,74],[11,65],[13,32],[15,7],[17,-16],[19,-26],[22,-29],[23,-10],[25,17],[28,31],[30,8],[32,-10],[33,-22],[35,5],[38,26],[40,20],[42,-4],[44,-34],[47,-41],[48,-56],[52,-70],[55,-61],[59,-49],[62,-41],[63,-4],[66,17],[68,32],[71,54],[74,58],[76,47],[79,8],[82,7],[84,-10],[86,-29],[89,-29],[91,-4],[93,20],[96,26],[98,44],[103,44],[105,20],[108,-13],[110,-23],[113,1],[115,16],[117,47],[119,38],[121,23],[125,40],[129,31],[132,62],[134,81],[138,81],[141,56],[143,32],[146,16],[148,31],[152,14],[154,42],[157,38],[160,14],[162,-25],[165,-41],[167,-58],[170,-49],[172,-59],[176,-49],[180,-55],[184,-35],[187,-25],[189,29],[191,54],[195,54],[196,14],[200,-1],[203,13],[205,-1],[208,-16],[210,-31],[213,-52],[217,-70],[220,-70],[223,-40],[225,-19],[228,8],[230,32],[233,51],[236,54],[238,14],[241,-19],[243,-26],[246,-25],[249,-10],[251,7],[253,-4],[256,-28],[258,-40],[261,-22],[264,-2],[266,-25],[268,-42],[271,-19],[274,-2],[278,23],[284,26],[287,60],[293,56],[295,-4],[298,5],[301,35],[305,50],[308,69],[312,59],[314,35],[317,-16],[320,-28],[324,-4],[327,26],[331,59],[336,59],[339,32],[342,8],[346,-22],[349,-28],[352,11],[355,48],[358,54],[362,50],[366,62],[367,71],[372,68],[375,47],[379,35],[381,23],[385,51],[389,54],[393,17],[397,54],[400,35],[402,-28],[405,-42],[409,-19],[412,11],[414,26],[417,50],[420,55],[423,41],[426,-4],[429,-25],[433,-29],[435,-22],[438,26],[441,37],[444,48],[447,26],[450,-10],[454,-25],[459,-34],[462,-4],[464,16],[468,19],[471,-19],[475,-34],[478,-49],[482,-19],[485,-52],[488,-38],[491,-65],[495,-61],[499,-64],[502,-57],[505,-67],[509,-70],[512,-55],[515,-25],[518,-49],[521,-72],[524,-65],[526,-49],[530,-40]
];
var wtSlow = [
[0,52],[3,66],[6,70],[9,72],[12,60],[15,30],[18,-8],[21,-25],[24,-22],[27,4],[30,26],[32,18],[34,-5],[36,-20],[39,6],[42,20],[45,-5],[48,-30],[51,-48],[54,-68],[57,-65],[60,-55],[63,-42],[66,-15],[69,15],[72,35],[75,52],[77,48],[80,25],[83,5],[86,-10],[88,-27],[91,-27],[94,-8],[97,18],[100,32],[104,44],[107,25],[110,-8],[112,-22],[115,-10],[118,25],[121,38],[124,30],[127,35],[131,30],[134,58],[137,76],[140,74],[143,52],[146,28],[149,20],[152,24],[155,30],[158,38],[161,24],[164,-10],[167,-36],[170,-50],[173,-52],[177,-50],[181,-50],[185,-38],[188,-20],[190,15],[193,45],[196,50],[198,25],[201,5],[204,5],[207,-3],[210,-18],[213,-35],[216,-56],[219,-66],[222,-62],[225,-38],[228,-10],[231,18],[234,40],[237,50],[240,25],[243,-12],[246,-25],[249,-20],[252,-5],[255,-8],[258,-28],[261,-35],[264,-12],[267,-15],[270,-35],[273,-18],[277,5],[281,18],[285,30],[288,50],[292,54],[295,28],[298,0],[301,15],[305,35],[309,55],[312,60],[315,40],[318,5],[321,-24],[324,-20],[327,0],[331,30],[335,55],[338,52],[341,22],[344,0],[348,-24],[351,-22],[354,15],[357,42],[361,50],[365,50],[368,60],[372,66],[375,56],[378,38],[381,28],[384,32],[387,48],[391,42],[395,30],[398,50],[401,25],[404,-18],[407,-38],[410,-25],[414,5],[417,28],[421,50],[424,52],[427,20],[430,-15],[434,-26],[437,-14],[440,12],[444,36],[447,44],[450,12],[453,-15],[457,-30],[461,-26],[464,0],[467,14],[470,-5],[473,-25],[477,-40],[481,-25],[484,-30],[487,-48],[490,-58],[494,-62],[498,-60],[502,-57],[506,-64],[510,-62],[513,-48],[516,-30],[519,-40],[522,-68],[525,-58],[528,-48],[530,-43]
];

// axes and annotation values
var priceTicks = [62.5,62,61.5,61,60.5,60,59.5,58.5,58];
var stochTicks = [80,40,0];
var macdTicks = [0.5,0,-0.5];
var wtTicks = [100,0];
var timeTickBars = [41.4,104.7,202.4,279.2,338.5,408.5,482.2,537.7,629,684.4];
var timeTickLabels = ["Oct","14","Nov","18","Dec","16","2020","14","Feb","13"];
var fibLevels = [1,0.786,0.618,0.5,0.382,0];
var fibPrices = [62.11,61.41,60.86,60.47,60.09,58.84];
var trendBars = [0,588];
var trendPrices = [60.69,62.69];
var dividendBars = [84.5,518];
var earningsBars = [168,615.5];
var lastClose = 58.98;
var lastLabel = 59.10;
var entryPrice = 59.5;
var targetPrice = 60.86;
var stopPrice = 59.1;

var width = 2316, height = 1444;
var axisX = 2197, lastX = 1550;
var svg = d3.select("#chart").append("svg")
    .attr("width", width).attr("height", height)
    .style("display", "block").style("background", "#131722");

var x = d3.scaleLinear().domain([0, 530]).range([1, lastX]);
var yPrice = d3.scaleLinear().domain([62, 58]).range([324.4, 952.8]);
var yStoch = d3.scaleLinear().domain([0, 80]).range([195, 52.7]);
var yMacd = d3.scaleLinear().domain([0.5, -0.5]).range([969, 1145]);
var yWt = d3.scaleLinear().domain([0, 100]).range([1289, 1177.6]);

var panes = {
    stoch: [0, 214],
    main: [216, 962],
    macd: [964, 1174],
    wt: [1176, 1388]
};
var defs = svg.append("defs");
Object.keys(panes).forEach(function(k) {
    defs.append("clipPath").attr("id", "clip-" + k).append("rect")
        .attr("x", 0).attr("y", panes[k][0]).attr("width", axisX).attr("height", panes[k][1] - panes[k][0]);
    defs.append("clipPath").attr("id", "clipaxis-" + k).append("rect")
        .attr("x", axisX).attr("y", panes[k][0]).attr("width", width - axisX).attr("height", panes[k][1] - panes[k][0]);
});

var gridColor = "#2a2e39", axisColor = "#808080", textColor = "#d1d4dc";
var up = "#26a69a", down = "#ef5350";

function drawGrid(y, ticks, pane) {
    var g = svg.append("g").attr("clip-path", "url(#clip-" + pane + ")");
    g.selectAll("line").data(ticks).join("line")
        .attr("x1", 0).attr("x2", axisX).attr("y1", y).attr("y2", y)
        .attr("stroke", gridColor).attr("stroke-width", 2);
}
function drawAxis(y, ticks, pane) {
    // clip on an outer group, the axis itself is translated
    var g = svg.append("g").attr("clip-path", "url(#clipaxis-" + pane + ")").append("g")
        .attr("transform", "translate(" + axisX + ",0)")
        .call(d3.axisRight(y).tickValues(ticks).tickSize(9).tickPadding(8).tickFormat(d3.format(".2f")));
    g.select(".domain").remove();
    g.selectAll("line").attr("stroke", axisColor).attr("stroke-width", 2);
    g.selectAll("text").attr("fill", textColor).attr("font-size", 22.5);
}
function lineOf(y) {
    return d3.line().x(function(d){ return x(d[0]); }).y(function(d){ return y(d[1]); });
}
// draws a two colour line, each segment takes the colour of its end point
function drawTrendLine(g, rows, y, w) {
    g.selectAll(null).data(d3.pairs(rows)).join("line")
        .attr("x1", function(d){ return x(d[0][0]); }).attr("y1", function(d){ return y(d[0][1]); })
        .attr("x2", function(d){ return x(d[1][0]); }).attr("y2", function(d){ return y(d[1][1]); })
        .attr("stroke", function(d){ return d[1][2] > 0 ? up : "#e53935"; })
        .attr("stroke-width", w).attr("stroke-linecap", "round");
}
function legend(txt, yy, len, bold) {
    svg.append("text").attr("x", 16).attr("y", yy).text(txt)
        .attr("fill", bold ? "#e4e6ea" : "#cfd2d8").attr("font-size", 23)
        .attr("font-weight", bold ? 700 : 400)
        .attr("textLength", len).attr("lengthAdjust", "spacingAndGlyphs");
}

/* ---------- grids ---------- */
drawGrid(yStoch, stochTicks, "stoch");
drawGrid(yPrice, priceTicks, "main");
drawGrid(yMacd, macdTicks, "macd");
drawGrid(yWt, wtTicks, "wt");

/* ---------- stochastic pane ---------- */
var gs = svg.append("g").attr("clip-path", "url(#clip-stoch)");
gs.append("path").datum(stochArea)
    .attr("d", d3.area().x(function(d){ return x(d[0]); }).y0(yStoch(0)).y1(function(d){ return yStoch(d[1]); }))
    .attr("fill", "#383c47");
function signalLines(bars, color, w) {
    gs.selectAll(null).data(bars).join("line")
        .attr("x1", function(d){ return x(d); }).attr("x2", function(d){ return x(d); })
        .attr("y1", 0).attr("y2", 214)
        .attr("stroke", color).attr("stroke-width", w);
}
signalLines(stochSellWeak, "#b54045", 1.5);
signalLines(stochSellStrong, "#b54045", 3);
signalLines(stochBuyWeak, "#2c8379", 1.5);
signalLines(stochBuyStrong, "#2c8379", 3);
[85, 15].forEach(function(v) {
    gs.append("line").attr("x1", 2).attr("x2", lastX).attr("y1", yStoch(v)).attr("y2", yStoch(v))
        .attr("stroke", "#b8b9bd").attr("stroke-width", 2.5);
});
gs.append("path").datum(stochSlow).attr("d", lineOf(yStoch)).attr("fill", "none").attr("stroke", "#a3a6ae").attr("stroke-width", 2);
gs.append("path").datum(stochFast).attr("d", lineOf(yStoch)).attr("fill", "none").attr("stroke", "#ffffff").attr("stroke-width", 2.2);

/* ---------- main pane ---------- */
var gm = svg.append("g").attr("clip-path", "url(#clip-main)");
var fibX0 = x(443), fibX1 = x(615.5) - 2;
var fibFills = ["#353942", "#37303a", "#302630", "#30232c", "#321f28"];
d3.pairs(fibPrices).forEach(function(p, i) {
    gm.append("rect").attr("x", fibX0).attr("width", fibX1 - fibX0)
        .attr("y", yPrice(p[0])).attr("height", yPrice(p[1]) - yPrice(p[0]))
        .attr("fill", fibFills[i]);
});
// grid shows through the fib fill
gm.selectAll(null).data(priceTicks).join("line")
    .attr("x1", fibX0).attr("x2", fibX1).attr("y1", yPrice).attr("y2", yPrice)
    .attr("stroke", "#5a5e68").attr("stroke-opacity", .45).attr("stroke-width", 2);
var posX0 = x(541);
gm.append("rect").attr("x", posX0).attr("width", fibX1 - posX0)
    .attr("y", yPrice(targetPrice)).attr("height", yPrice(entryPrice) - yPrice(targetPrice)).attr("fill", "#2d5a5c");
gm.append("rect").attr("x", posX0).attr("width", fibX1 - posX0)
    .attr("y", yPrice(entryPrice)).attr("height", yPrice(stopPrice) - yPrice(entryPrice)).attr("fill", "#73323a");
var fibLineColors = ["#a9abb0", "#a98f94", "#a8706f", "#a25a5a", "#a33e40", "#8c2226"];
var fibTextColors = ["#f5f5f5", "#f7d3d3", "#f0a3a3", "#ef7272", "#ef5350", "#a81818"];
gm.selectAll(null).data(fibPrices).join("line")
    .attr("x1", fibX0).attr("x2", fibX1).attr("y1", yPrice).attr("y2", yPrice)
    .attr("stroke", function(d, i){ return fibLineColors[i]; }).attr("stroke-width", 2);
// last price and support line
gm.append("line").attr("x1", 0).attr("x2", axisX).attr("y1", yPrice(lastClose)).attr("y2", yPrice(lastClose))
    .attr("stroke", "#ef5350").attr("stroke-opacity", .5).attr("stroke-width", 2).attr("stroke-dasharray", "2,2");
gm.append("line").attr("x1", 0).attr("x2", fibX1).attr("y1", yPrice(58.84) + 1).attr("y2", yPrice(58.84) + 1)
    .attr("stroke", "#4a7fd9").attr("stroke-width", 2);
// earnings lines
gm.selectAll(null).data(earningsBars).join("line")
    .attr("x1", x).attr("x2", x).attr("y1", 220).attr("y2", 907)
    .attr("stroke", "#a8404f").attr("stroke-width", 1.5).attr("stroke-dasharray", "8,6");
// candles
var gc = gm.append("g");
gc.selectAll("line").data(candles).join("line")
    .attr("x1", function(d){ return x(d[0]); }).attr("x2", function(d){ return x(d[0]); })
    .attr("y1", function(d){ return yPrice(d[2]); }).attr("y2", function(d){ return yPrice(d[3]); })
    .attr("stroke", function(d){ return d[4] >= d[1] ? up : down; }).attr("stroke-width", 1.8);
gc.selectAll("rect").data(candles).join("rect")
    .attr("x", function(d){ return x(d[0]) - 1.5; }).attr("width", 3)
    .attr("y", function(d){ return yPrice(Math.max(d[1], d[4])); })
    .attr("height", function(d){ return Math.max(1, Math.abs(yPrice(d[1]) - yPrice(d[4]))); })
    .attr("fill", function(d){ return d[4] >= d[1] ? up : down; });
// moving averages
drawTrendLine(gm.append("g"), maFast, yPrice, 1.2);
gm.append("path").datum(maSlow).attr("d", lineOf(yPrice)).attr("fill", "none").attr("stroke", "#868a94").attr("stroke-width", 2.5);
// P-SAR
gm.append("g").selectAll("circle").data(sarDots).join("circle")
    .attr("cx", function(d){ return x(d[0]); }).attr("cy", function(d){ return yPrice(d[1]); })
    .attr("r", 4.6).attr("fill", "#b2b5be").attr("fill-opacity", .95);
// trend line
gm.append("line")
    .attr("x1", x(trendBars[0])).attr("y1", yPrice(trendPrices[0]))
    .attr("x2", x(trendBars[1])).attr("y2", yPrice(trendPrices[1]))
    .attr("stroke", "#f2f215").attr("stroke-width", 2);
// event circles
function eventMark(bar, label, color, textFill) {
    var g = svg.append("g").attr("transform", "translate(" + x(bar) + ",932)");
    g.append("circle").attr("r", 24).attr("fill", "#131722").attr("stroke", color).attr("stroke-width", 1.5);
    g.append("text").attr("text-anchor", "middle").attr("dy", "0.36em")
        .attr("font-size", 24).attr("font-weight", 700).attr("fill", textFill).text(label);
}
dividendBars.forEach(function(b){ eventMark(b, "D", "#1e88e5", "#1e90ff"); });
earningsBars.forEach(function(b){ eventMark(b, "E", "#c8404c", "#e04a52"); });
// fib labels
svg.selectAll(null).data(fibPrices).join("text")
    .attr("x", fibX1 + 10).attr("y", function(d){ return yPrice(d) + 1.5; }).attr("dy", "0.36em")
    .attr("font-size", 22).attr("letter-spacing", 1)
    .attr("fill", function(d, i){ return fibTextColors[i]; })
    .text(function(d, i){ return fibLevels[i] + "(" + d.toFixed(2) + ")"; });

/* ---------- MACD pane ---------- */
var gd = svg.append("g").attr("clip-path", "url(#clip-macd)");
gd.selectAll("rect").data(macdHist).join("rect")
    .attr("x", function(d){ return x(d[0]) - 3.1; }).attr("width", 6.2)
    .attr("y", function(d){ return d[1] >= 0 ? yMacd(d[1]) : yMacd(0); })
    .attr("height", function(d){ return Math.abs(yMacd(d[1]) - yMacd(0)); })
    .attr("fill", function(d, i) {
        var prev = i > 0 ? macdHist[i - 1][1] : 0;
        if (d[1] >= 0) return d[1] >= prev ? "#26a69a" : "#00564a";
        return d[1] <= prev ? "#ef7a7a" : "#c62828";
    });
gd.append("path").datum(macdSignal).attr("d", lineOf(yMacd)).attr("fill", "none").attr("stroke", "#d6d8dc").attr("stroke-width", 1.4);
drawTrendLine(gd.append("g"), macdLine, yMacd, 2);
function crossDots(rows, color) {
    gd.append("g").selectAll("circle").data(rows).join("circle")
        .attr("cx", function(d){ return x(d[0]); }).attr("cy", function(d){ return yMacd(d[1]); })
        .attr("r", 5.5).attr("fill", color);
}
crossDots(macdCrossDown, "#d9262c");
crossDots(macdCrossUp, "#4db6ac");

/* ---------- wave trend pane ---------- */
var gw = svg.append("g").attr("clip-path", "url(#clip-wt)");
[[70, "#d24a4a", null], [65, "#d24a4a", "3,2"], [-65, "#26a69a", "3,2"], [-70, "#26a69a", null]].forEach(function(l) {
    gw.append("line").attr("x1", 2).attr("x2", lastX).attr("y1", yWt(l[0])).attr("y2", yWt(l[0]))
        .attr("stroke", l[1]).attr("stroke-width", l[2] ? 4 : 3).attr("stroke-dasharray", l[2]);
});
gw.append("path").datum(wtSlow).attr("d", lineOf(yWt)).attr("fill", "none").attr("stroke", "#787b86").attr("stroke-width", 2);
gw.append("path").datum(wtFast).attr("d", lineOf(yWt)).attr("fill", "none").attr("stroke", "#ffffff").attr("stroke-width", 2.2);

/* ---------- axes ---------- */
drawAxis(yStoch, stochTicks, "stoch");
drawAxis(yPrice, priceTicks, "main");
drawAxis(yMacd, macdTicks, "macd");
drawAxis(yWt, wtTicks, "wt");

var xAxis = svg.append("g").attr("transform", "translate(0,1389)")
    .call(d3.axisBottom(x).tickValues(timeTickBars).tickSize(6).tickPadding(16)
        .tickFormat(function(d, i){ return timeTickLabels[i]; }));
xAxis.select(".domain").remove();
xAxis.selectAll("line").attr("stroke", axisColor).attr("stroke-width", 1.5);
xAxis.selectAll("text").attr("fill", textColor).attr("font-size", 22.5);

// pane separators and right border
[215, 963, 1175, 1389].forEach(function(yy) {
    svg.append("line").attr("x1", 0).attr("x2", width).attr("y1", yy).attr("y2", yy)
        .attr("stroke", "#787878").attr("stroke-width", 3);
});
svg.append("line").attr("x1", axisX).attr("x2", axisX).attr("y1", 0).attr("y2", height)
    .attr("stroke", "#787878").attr("stroke-width", 2);

// price labels on the axis
function priceBox(top, h, fill) {
    svg.append("rect").attr("x", axisX).attr("y", top).attr("width", 94).attr("height", h).attr("fill", fill);
}
function priceText(v, yy) {
    svg.append("line").attr("x1", axisX).attr("x2", axisX + 9).attr("y1", yy).attr("y2", yy).attr("stroke", "#ffffff").attr("stroke-opacity", .7).attr("stroke-width", 2);
    svg.append("text").attr("x", axisX + 18).attr("y", yy).attr("dy", "0.36em")
        .attr("fill", "#ffffff").attr("font-size", 22.5).text(v.toFixed(2));
}
priceBox(yPrice(targetPrice) - 18.5, 35.5, up);
priceText(targetPrice, yPrice(targetPrice) - 1.5);
priceBox(yPrice(entryPrice) - 19, 35, "#5d5d5d");
priceText(entryPrice, yPrice(entryPrice) - 1);
priceBox(yPrice(lastLabel) - 18, 72, down);
priceText(lastLabel, yPrice(lastLabel));
priceText(lastClose, yPrice(lastLabel) + 37);

// legends
legend("CM_Stoch_MTF (14, 3, 3, 85, 15, 120, 120, 14, 3, 3)", 41, 572, false);
legend("VERIZON COMMUNICATIONS, 60, Cboe BZX", 257, 500, true);
legend("CM_Ultimate_MA_MTF_V2 (120, 14, 7, 1, 2, 30, 7, 1)", 291, 593, false);
legend("CM_P-SAR (2, 2, 2)", 324, 209, false);
legend("CM_Ult_MacD_MTF (1D, 15, 40, 15)", 1004, 405, false);
legend("WT_LB (10, 15, 70, 65, -70, -65)", 1216, 352, false);
</script>
</body>
</html>
